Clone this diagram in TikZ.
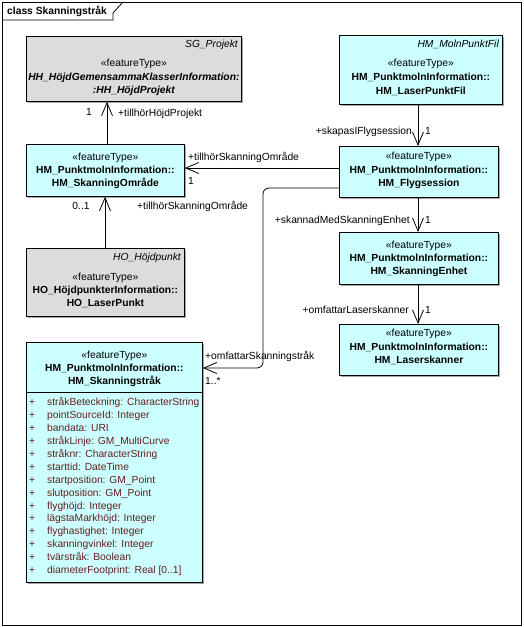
\documentclass[tikz,border=0pt]{standalone}
\usepackage{fontspec}
\setmainfont{Liberation Sans}
\usetikzlibrary{arrows.meta,shadows}
\definecolor{cfill}{RGB}{204,255,255}
\definecolor{gfill}{RGB}{220,220,220}
\definecolor{attrc}{RGB}{100,30,30}
\begin{document}
\begin{tikzpicture}[x=1pt,y=-1pt,
  font=\fontsize{10.3}{12}\selectfont,
  ubox/.style={draw=black, line width=0.8pt, inner sep=0pt, anchor=north west,
    general shadow={fill=black!35, shadow xshift=2pt, shadow yshift=-2pt}},
  cbox/.style={ubox, fill=cfill},
  gbox/.style={ubox, fill=gfill},
  txt/.style={inner sep=0pt, text height=7.4pt, text depth=0pt},
  bt/.style={txt, font=\fontsize{10.3}{12}\selectfont\bfseries},
  bit/.style={txt, font=\fontsize{10.3}{12}\selectfont\bfseries\itshape},
  itr/.style={txt, font=\fontsize{10.3}{12}\selectfont\itshape, anchor=east},
  lbl/.style={txt},
  lblr/.style={txt, anchor=east},
  lbll/.style={txt, anchor=west},
  att/.style={txt, anchor=west, text=attrc},
  assoc/.style={line width=0.8pt, -{Straight Barb[length=13pt,width=11pt,line width=0.8pt]}}
]
\useasboundingbox (0,0) rectangle (523,627);
% frame
\draw[line width=0.8pt] (2,2) rectangle (521,625);
\draw[line width=0.8pt] (2,20) -- (113,20) -- (113,13) -- (123,2);
\node[txt, anchor=west, font=\fontsize{10.3}{12}\selectfont\bfseries] (title) at (7,11) {class Skanningstråk};

% boxes
\node[gbox, minimum width=215, minimum height=65] (SGP) at (26,36) {};
\node[cbox, minimum width=163, minimum height=69] (LPF) at (339,35) {};
\node[cbox, minimum width=158, minimum height=52] (SO) at (26,144) {};
\node[gbox, minimum width=158, minimum height=68] (HOL) at (26,248) {};
\node[cbox, minimum width=159, minimum height=51] (FS) at (339,146) {};
\node[cbox, minimum width=159, minimum height=52] (SE) at (339,232) {};
\node[cbox, minimum width=159, minimum height=51] (LS) at (339,324) {};
\node[cbox, minimum width=176, minimum height=240] (ST) at (26,342) {};
\draw[line width=0.8pt] (ST.west |- 0,392) -- (ST.east |- 0,392);

% SG_Projekt texts
\node[itr] (sgp0) at (238,44) {SG\_Projekt};
\node[lbl] (sgp1) at (SGP.center |- 0,63) {«featureType»};
\node[bit] (sgp2) at (SGP.center |- 0,77) {HH\_HöjdGemensammaKlasserInformation:};
\node[bit] (sgp3) at (SGP.center |- 0,90) {:HH\_HöjdProjekt};

% LaserPunktFil texts
\node[itr] (lpf0) at (499,44) {HM\_MolnPunktFil};
\node[lbl] (lpf1) at (LPF.center |- 0,63) {«featureType»};
\node[bt] (lpf2) at (LPF.center |- 0,77) {HM\_PunktmolnInformation::};
\node[bt] (lpf3) at (LPF.center |- 0,91) {HM\_LaserPunktFil};

% SkanningOmrade
\node[lbl] (so1) at (SO.center |- 0,157) {«featureType»};
\node[bt] (so2) at (SO.center |- 0,170) {HM\_PunktmolnInformation::};
\node[bt] (so3) at (SO.center |- 0,183) {HM\_SkanningOmråde};

% HO_LaserPunkt
\node[itr] (hol0) at (181,257) {HO\_Höjdpunkt};
\node[lbl] (hol1) at (HOL.center |- 0,277) {«featureType»};
\node[bt] (hol2) at (HOL.center |- 0,290) {HO\_HöjdpunkterInformation::};
\node[bt] (hol3) at (HOL.center |- 0,303) {HO\_LaserPunkt};

% Flygsession
\node[lbl] (fs1) at (FS.center |- 0,156) {«featureType»};
\node[bt] (fs2) at (FS.center |- 0,169.5) {HM\_PunktmolnInformation::};
\node[bt] (fs3) at (FS.center |- 0,183) {HM\_Flygsession};

% SkanningEnhet
\node[lbl] (se1) at (SE.center |- 0,245) {«featureType»};
\node[bt] (se2) at (SE.center |- 0,258) {HM\_PunktmolnInformation::};
\node[bt] (se3) at (SE.center |- 0,271) {HM\_SkanningEnhet};

% Laserskanner
\node[lbl] (ls1) at (LS.center |- 0,333) {«featureType»};
\node[bt] (ls2) at (LS.center |- 0,346.5) {HM\_PunktmolnInformation::};
\node[bt] (ls3) at (LS.center |- 0,360) {HM\_Laserskanner};

% Skanningstrak
\node[lbl] (st1) at (ST.center |- 0,355) {«featureType»};
\node[bt] (st2) at (ST.center |- 0,368) {HM\_PunktmolnInformation::};
\node[bt] (st3) at (ST.center |- 0,381) {HM\_Skanningstråk};
\foreach \t [count=\i from 0] in {{stråkBeteckning: CharacterString},{pointSourceId: Integer},{bandata: URI},{stråkLinje: GM\_MultiCurve},{stråknr: CharacterString},{starttid: DateTime},{startposition: GM\_Point},{slutposition: GM\_Point},{flyghöjd: Integer},{lägstaMarkhöjd: Integer},{flyghastighet: Integer},{skanningvinkel: Integer},{tvärstråk: Boolean},{diameterFootprint: Real [0..1]}}{
  \node[att] (p\i) at (29,{401.7+\i*12.95}) {+};
  \node[att] (a\i) at (47,{401.7+\i*12.95}) {\t};
}

% connectors
\draw[assoc] (SO.north -| 107,0) -- (SGP.south -| 107,0);
\node[lbl] (c1a) at (89,112) {1};
\node[lbll] (c1b) at (118,113) {+tillhörHöjdProjekt};

\draw[assoc] (HOL.north -| 105,0) -- (SO.south -| 105,0);
\node[lbl] (c2a) at (81,206) {0..1};
\node[lbll] (c2b) at (137,206) {+tillhörSkanningOmråde};

\draw[assoc] (FS.west |- 0,168) -- (SO.east |- 0,168);
\node[lbll] (c3a) at (188,157) {+tillhörSkanningOmråde};
\node[lbll] (c3b) at (188,181) {1};

\draw[assoc] (LPF.south -| 418,0) -- (FS.north -| 418,0);
\node[lblr] (c4a) at (412,131) {+skapasIFlygsession};
\node[lbll] (c4b) at (425,131) {1};

\draw[assoc] (FS.south -| 418,0) -- (SE.north -| 418,0);
\node[lblr] (c5a) at (410,220) {+skannadMedSkanningEnhet};
\node[lbll] (c5b) at (425,220) {1};

\draw[assoc] (SE.south -| 418,0) -- (LS.north -| 418,0);
\node[lblr] (c6a) at (409,310) {+omfattarLaserskanner};
\node[lbll] (c6b) at (425,310) {1};

\draw[assoc, rounded corners=6pt] (FS.west |- 0,188) -- (263,188) -- (263,368) -- (ST.east |- 0,368);
\node[lbll] (c7a) at (205,356) {+omfattarSkanningstråk};
\node[lbll] (c7b) at (205,381) {1..*};
\end{tikzpicture}
\end{document}
